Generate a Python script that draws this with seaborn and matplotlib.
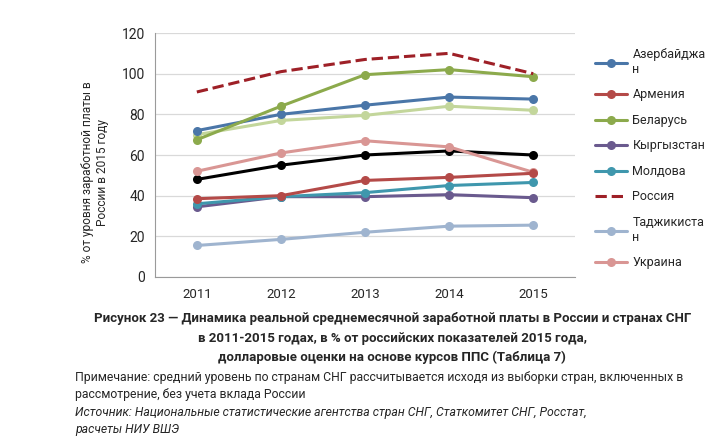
import seaborn as sns
import matplotlib.pyplot as plt
import pandas as pd

years = [2011, 2012, 2013, 2014, 2015]

# series (% of Russian 2015 level)
azerbaijan = [72, 80, 84.5, 88.5, 87.5]
armenia = [38.5, 40, 47.5, 49, 51]
belarus = [67.5, 84, 99.5, 102, 98.5]
kyrgyzstan = [34.5, 39.5, 39.5, 40.5, 39]
moldova = [36, 39.5, 41.5, 45, 46.5]
russia = [91, 101, 107, 110, 100]
tajikistan = [15.5, 18.5, 22, 25, 25.5]
ukraine = [52, 61, 67, 64, 51.5]
cis_avg = [48, 55, 60, 62, 60]
light_green = [70, 77, 79.5, 84, 82]

labels = ["Азербайджа\nн", "Армения", "Беларусь", "Кыргызстан", "Молдова",
          "Россия", "Таджикиста\nн", "Украина"]

sns.set_style("white")
plt.rcParams['font.family'] = ['Roboto', 'DejaVu Sans']

fig = plt.figure(figsize=(7.2, 4.38), dpi=100)
ax = fig.add_axes([0.215, 0.3676, 0.584, 0.557])

series = [
    (light_green, None, "#c3d69b", "-", "o"),
    (cis_avg, None, "#000000", "-", "o"),
    (ukraine, labels[7], "#d99694", "-", "o"),
    (tajikistan, labels[6], "#9fb4cf", "-", "o"),
    (kyrgyzstan, labels[3], "#6a5a8e", "-", "o"),
    (moldova, labels[4], "#3f97ad", "-", "o"),
    (armenia, labels[1], "#b44a48", "-", "o"),
    (azerbaijan, labels[0], "#4a76a8", "-", "o"),
    (belarus, labels[2], "#8caa4c", "-", "o"),
    (russia, labels[5], "#9e2027", "--", None),
]

for vals, lab, col, ls, mk in series:
    df = pd.DataFrame({'year': years, 'val': vals})
    sns.lineplot(data=df, x='year', y='val', ax=ax, color=col, linestyle=ls,
                 marker=mk, markersize=6.5, markeredgewidth=0, linewidth=2.2,
                 label=lab if lab else '_nolegend_',
                 dashes=(2.2, 1.6) if ls == "--" else '')

ax.set_xlim(2010.5, 2015.5)
ax.set_ylim(0, 120)
ax.set_yticks(range(0, 121, 20))
ax.set_xticks(years)
ax.set_xticks([2010.5 + i for i in range(6)], minor=True)
ax.tick_params(axis='x', which='major', length=0, labelsize=9.5, pad=8)
ax.tick_params(axis='x', which='minor', length=5, color='#9a9a9a', direction='out')
ax.tick_params(axis='y', length=4, color='#9a9a9a', direction='out', labelsize=10, pad=3)
ax.grid(axis='y', color='#d9d9d9', linewidth=0.9)
ax.set_axisbelow(True)
for s in ['top', 'right']:
    ax.spines[s].set_visible(False)
for s in ['left', 'bottom']:
    ax.spines[s].set_color('#9a9a9a')
ax.set_xlabel('')
ax.set_ylabel('% от уровня заработной платы в\nРоссии в 2015 году', fontsize=8.6)
ax.yaxis.set_label_coords(-0.11, 0.43)

order = labels
h, l = ax.get_legend_handles_labels()
hm = dict(zip(l, h))
ax.legend([hm[k] for k in order], order, loc='upper left', bbox_to_anchor=(1.02, 0.985),
          frameon=False, fontsize=9, handlelength=2.6, labelspacing=1.0,
          handletextpad=0.4)

fig.text(0.545, 0.265, "Рисунок 23 — Динамика реальной среднемесячной заработной платы в России и странах СНГ",
         ha='center', fontsize=9.5, fontweight='bold')
fig.text(0.545, 0.220, "в 2011-2015 годах, в % от российских показателей 2015 года,",
         ha='center', fontsize=9.5, fontweight='bold')
fig.text(0.545, 0.176, "долларовые оценки на основе курсов ППС (Таблица 7)",
         ha='center', fontsize=9.5, fontweight='bold')
fig.text(0.104, 0.130, "Примечание: средний уровень по странам СНГ рассчитывается исходя из выборки стран, включенных в",
         fontsize=8.8)
fig.text(0.104, 0.091, "рассмотрение, без учета вклада России", fontsize=8.8)
fig.text(0.104, 0.050, "Источник: Национальные статистические агентства стран СНГ, Статкомитет СНГ, Росстат,",
         fontsize=8.8, style='italic')
fig.text(0.104, 0.011, "расчеты НИУ ВШЭ", fontsize=8.8, style='italic')

plt.savefig('out.png', dpi=100)
